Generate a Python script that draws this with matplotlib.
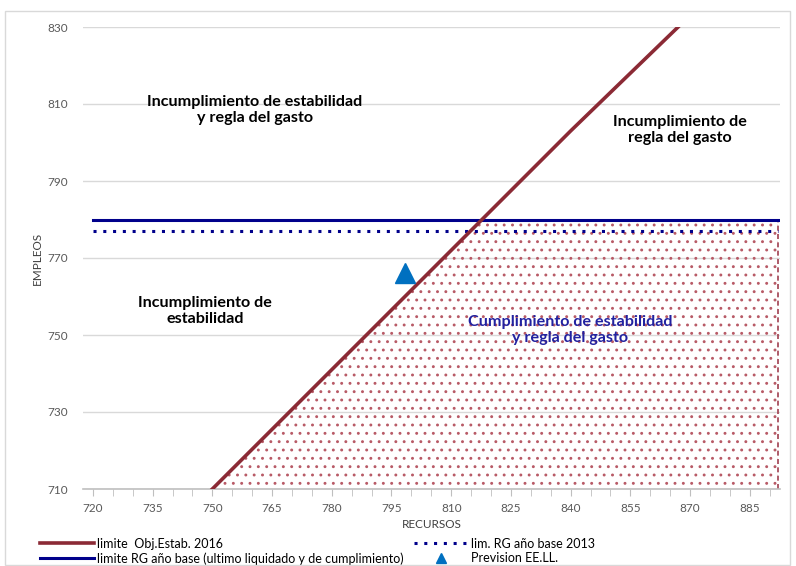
import numpy as np
import matplotlib.pyplot as plt
from matplotlib.patches import Rectangle

plt.rcParams['font.family'] = ['Lato', 'DejaVu Sans']
plt.rcParams['hatch.linewidth'] = 0.9

# data
obj_recursos = [748, 750, 780, 810, 840, 870]
obj_empleos = [708, 710, 741, 772, 803, 833]
rg_base = 780          # limite RG año base
rg_2013 = 777          # lim. RG año base 2013
rg_x = [720, 892]
prev_recursos = [798.5]
prev_empleos = [766]

xticks = list(range(720, 890, 15))
yticks = list(range(710, 831, 20))

dark_red = '#8B2A35'
navy = '#00008B'

fig = plt.figure(figsize=(7.96, 5.66), dpi=100)
fig.patches.append(Rectangle((5 / 796, 0.002), 785 / 796, 554 / 566,
                             transform=fig.transFigure, fill=False,
                             edgecolor='#d9d9d9', linewidth=1))
ax = fig.add_axes([83 / 796, 77 / 566, 697 / 796, 462 / 566])

# area of compliance (below both limits)
yy = np.linspace(710, rg_base, 50)
left = np.interp(yy, obj_empleos, obj_recursos)
ax.fill_betweenx(yy, left, rg_x[1], facecolor='none', edgecolor='#b85a66',
                 hatch='..', linewidth=0, zorder=1)
ax.plot([rg_x[1], rg_x[1]], [710, rg_base], color='#a04050', lw=1.2,
        ls=(0, (3, 2)), zorder=2)

ax.plot(rg_x, [rg_base, rg_base], color=navy, lw=2.2, zorder=3,
        label='limite RG año base (ultimo liquidado y de cumplimiento)')
ax.plot(rg_x, [rg_2013, rg_2013], color=navy, lw=2.2, ls=(0, (1, 2.2)),
        zorder=3, label='lim. RG año base 2013')
ax.plot(obj_recursos, obj_empleos, color=dark_red, lw=2.6, zorder=4,
        label='limite  Obj.Estab. 2016')
ax.plot(prev_recursos, prev_empleos, ls='none', marker='^', ms=14,
        color='#0070C0', zorder=5, label='Prevision EE.LL.')

ax.set_xlim(717.5, 892.6)
ax.set_ylim(710, 830)
ax.set_xticks(xticks)
ax.set_xticks(range(720, 893, 5), minor=True)
ax.set_yticks(yticks)
ax.grid(axis='y', color='#d9d9d9', lw=1)
ax.set_axisbelow(True)
for s in ['top', 'right', 'left']:
    ax.spines[s].set_visible(False)
ax.spines['bottom'].set_color('#bfbfbf')
ax.spines['bottom'].set_linewidth(1.2)
ax.tick_params(axis='x', which='both', direction='out', color='#bfbfbf',
               labelsize=8.5, labelcolor='#595959', pad=5)
ax.tick_params(axis='x', which='major', length=5)
ax.tick_params(axis='x', which='minor', length=5)
ax.tick_params(axis='y', length=0, labelsize=8.5, labelcolor='#595959', pad=11)
ax.set_xlabel('RECURSOS', fontsize=8.5, color='#404040', labelpad=4)
ax.set_ylabel('EMPLEOS', fontsize=8.5, color='#404040', labelpad=3)

tkw = dict(fontsize=11.6, fontweight='bold', ha='center', va='center',
           linespacing=1.15)
ax.text(760.7, 808.4, 'Incumplimiento de estabilidad\ny regla del gasto',
        color='black', **tkw)
ax.text(867.5, 803.2, 'Incumplimiento de\nregla del gasto', color='black', **tkw)
ax.text(748.2, 756.2, 'Incumplimiento de\nestabilidad', color='black', **tkw)
ax.text(839.9, 751.3, 'Cumplimiento de estabilidad\ny regla del gasto',
        color='#2222A0', **tkw)

handles, labels = ax.get_legend_handles_labels()
order = [2, 0, 1, 3]
ax.legend([handles[i] for i in order], [labels[i] for i in order],
          loc='upper left', bbox_to_anchor=(-0.062, -0.105), ncol=2,
          frameon=False, fontsize=9, handlelength=4.3, columnspacing=0.8,
          labelspacing=0.2, handletextpad=0.3, borderaxespad=0, borderpad=0,
          markerscale=0.5)

fig.savefig('out.png', dpi=100)
